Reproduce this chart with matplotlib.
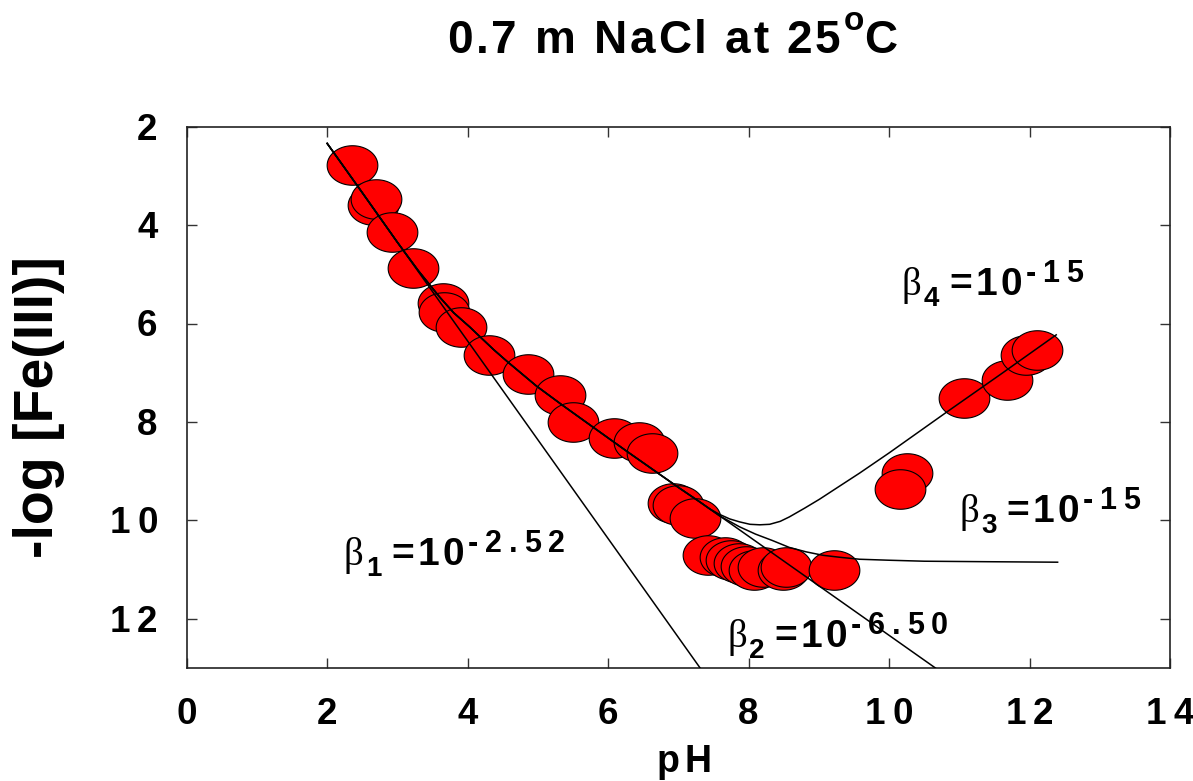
import numpy as np
import matplotlib
matplotlib.use("Agg")
import matplotlib.pyplot as plt
import matplotlib.transforms as mtransforms
from matplotlib.path import Path
from matplotlib.font_manager import FontProperties, findfont
from matplotlib.ft2font import FT2Font

# ---------------- data ----------------
ph_obs = [2.35, 2.65, 2.69, 2.92, 3.22, 3.65, 3.67, 3.91, 4.31, 4.86, 5.31, 5.50,
          6.09, 6.44, 6.63, 6.92, 6.99, 7.23, 7.42, 7.66, 7.75, 7.87, 7.97, 8.08,
          8.20, 8.49, 8.53, 9.22, 10.26, 10.16, 11.07, 11.68, 11.95, 12.10]
logfe_obs = [2.78, 3.59, 3.46, 4.13, 4.88, 5.59, 5.76, 6.07, 6.64, 7.03, 7.45, 8.00,
             8.33, 8.40, 8.64, 9.65, 9.69, 9.96, 10.71, 10.74, 10.81, 10.87, 10.93, 11.01,
             10.94, 11.00, 10.94, 11.00, 9.04, 9.37, 7.51, 7.15, 6.64, 6.54]

# model curves
b1_ph = [2.00, 7.31]
b1_y = [2.34, 13.00]

shared_ph = [2.00, 2.50, 3.00, 3.30, 3.60, 3.80, 4.03, 4.17, 4.37, 4.57, 4.98, 5.35,
             5.78, 6.26, 6.99, 7.30]
shared_y = [2.34, 3.34, 4.35, 4.93, 5.46, 5.78, 6.07, 6.26, 6.53, 6.78, 7.27, 7.66,
            8.10, 8.59, 9.32, 9.62]

b2_ph = shared_ph + [7.60, 10.66]
b2_y = shared_y + [9.92, 13.00]

b3_ph = shared_ph + [7.59, 7.87, 8.10, 8.34, 8.58, 8.82, 9.06, 9.30, 9.58, 10.00, 10.50,
                     11.40, 12.40]
b3_y = shared_y + [9.91, 10.13, 10.28, 10.41, 10.55, 10.64, 10.71, 10.75, 10.79, 10.81,
                   10.83, 10.84, 10.85]

b4_ph = shared_ph + [7.45, 7.59, 7.73, 7.87, 8.02, 8.16, 8.30, 8.45, 8.58, 8.80, 9.01,
                     9.30, 9.58, 10.00, 10.81, 11.60, 12.38]
b4_y = shared_y + [9.77, 9.88, 9.97, 10.03, 10.08, 10.09, 10.08, 10.02, 9.93, 9.75, 9.57,
                   9.30, 9.04, 8.63, 7.81, 7.02, 6.23]

xticks = [0, 2, 4, 6, 8, 10, 12, 14]
yticks = [2, 4, 6, 8, 10, 12]
xtick_labels = ["0", "2", "4", "6", "8", "10", "12", "14"]
ytick_labels = ["2", "4", "6", "8", "10", "12"]

title_main = "0.7 m NaCl at 25"
title_deg = "o"
title_end = "C"
xlabel = "pH"
ylabel = "-log [Fe(III)]"
beta_labels = [("1", "-2.52"), ("2", "-6.50"), ("3", "-15"), ("4", "-15")]

# ---------------- helpers ----------------
W, H = 1193, 781
SANS = "Liberation Sans"
SERIF = "Liberation Serif"
_ft = {}


def adv_pt(ch, family, weight, size):
    path = findfont(FontProperties(family=family, weight=weight))
    if path not in _ft:
        _ft[path] = FT2Font(path)
    ft = _ft[path]
    ft.set_size(size, 72)
    g = ft.load_char(ord(ch))
    return g.linearHoriAdvance / 65536.0


def tracked(fig, x, y, trans, segs, ha="left", ox=0.0, oy=0.0):
    """segs: list of (text, size, family, weight, dy_pt, track_pt)"""
    items = []
    cur = 0.0
    last_tr = 0.0
    for text, size, fam, wt, dy, tr in segs:
        for ch in text:
            items.append((ch, cur, dy, size, fam, wt))
            cur += adv_pt(ch, fam, wt, size) + tr
            last_tr = tr
    total = cur - last_tr
    shift = {"left": 0.0, "center": -total / 2, "right": -total}[ha]
    for ch, dx, dy, size, fam, wt in items:
        if ch == " ":
            continue
        t = trans + mtransforms.ScaledTranslation((dx + shift + ox) / 72.0,
                                                  (dy + oy) / 72.0,
                                                  fig.dpi_scale_trans)
        fig.text(x, y, ch, transform=t, ha="left", va="baseline",
                 fontsize=size, family=fam, weight=wt, color="black")


def fx(px):
    return px / W


def fy(py):
    return 1 - py / H


# ---------------- figure ----------------
fig = plt.figure(figsize=(W / 100, H / 100), dpi=100)
ax = fig.add_axes([186.7 / W, 1 - 668 / H, (1170 - 186.7) / W, (668 - 126.7) / H])
ax.set_xlim(0, 14)
ax.set_ylim(13, 2)

# ellipse marker
t = np.linspace(0, 2 * np.pi, 80)
ell = Path(np.column_stack([np.cos(t), 0.78 * np.sin(t)]), closed=True)

for xv, yv in zip(ph_obs, logfe_obs):
    ax.plot([xv], [yv], linestyle="none", marker=ell, markersize=36.5,
            markerfacecolor="#ff0000", markeredgecolor="black",
            markeredgewidth=0.8, zorder=2)

for xs, ys in [(b1_ph, b1_y), (b2_ph, b2_y), (b3_ph, b3_y), (b4_ph, b4_y)]:
    ax.plot(xs, ys, color="black", lw=1.1, zorder=3, clip_on=True,
            solid_joinstyle="round")

ax.set_xticks(xticks)
ax.set_yticks(yticks)
ax.tick_params(direction="in", length=7, width=1, top=True, right=True,
               labelbottom=False, labelleft=False, color="#333333")
for s in ax.spines.values():
    s.set_linewidth(1.2)
    s.set_color("#222222")

# tick labels
for v, lab in zip(xticks, xtick_labels):
    tracked(fig, v, 0, ax.get_xaxis_transform(),
            [(lab, 26.5, SANS, "bold", 0, 5.0)], ha="center", oy=-40.3)
for v, lab in zip(yticks, ytick_labels):
    tracked(fig, 0, v, ax.get_yaxis_transform(),
            [(lab, 26.5, SANS, "bold", 0, 5.0)], ha="right", ox=-21.0, oy=-9.3)

# title
tracked(fig, fx(672), fy(52.7), fig.transFigure,
        [(title_main, 33, SANS, "bold", 0, 2.0),
         (title_deg, 24, SANS, "bold", 16, 0.0),
         (title_end, 33, SANS, "bold", 0, 0.0)], ha="center")

# axis labels
tracked(fig, fx(684), fy(772), fig.transFigure,
        [(xlabel, 27, SANS, "bold", 0, 4.0)], ha="center")
fig.text(fx(39), fy(407), ylabel, rotation=90, ha="center", va="center",
         fontsize=40, family=SANS, weight="bold")

# beta annotations: (beta origin px, baseline px)
beta_pos = [(344, 565), (727, 647), (959, 522), (902, 295)]
for (sub, sup), (bx, by) in zip(beta_labels, beta_pos):
    tracked(fig, fx(bx), fy(by), fig.transFigure,
            [("β", 28, SERIF, "normal", 0, 1.5),
             (sub, 20, SANS, "bold", -8, 7.0),
             ("=10", 28, SANS, "bold", 0, 2.5),
             (sup, 22, SANS, "bold", 9.4, 5.0)])

fig.savefig("out.png", dpi=100)
